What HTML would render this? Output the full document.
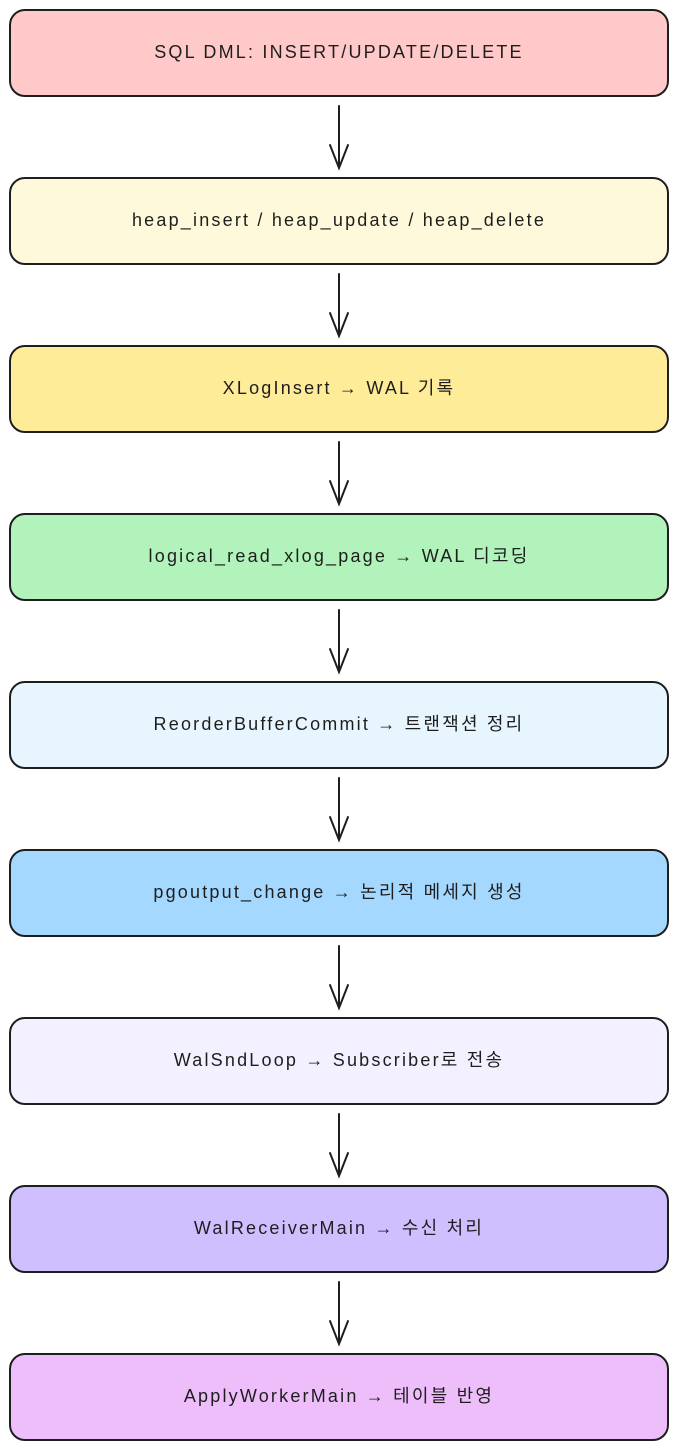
<!DOCTYPE html>
<html><head><meta charset="utf-8"><style>
html,body{margin:0;padding:0;background:#fff;}
svg text{font-family:"Liberation Sans","Noto Sans CJK KR",sans-serif;font-size:18px;letter-spacing:2.2px;fill:#1e1e1e;text-anchor:middle;dominant-baseline:central;}
</style></head><body>
<svg width="678" height="1450" viewBox="0 0 678 1450" xmlns="http://www.w3.org/2000/svg">
<g stroke="#1e1e1e" stroke-width="2">
<rect x="10" y="10" width="658" height="86" rx="15" fill="#ffc9c9"/>
<rect x="10" y="178" width="658" height="86" rx="15" fill="#fff9db"/>
<rect x="10" y="346" width="658" height="86" rx="15" fill="#ffec99"/>
<rect x="10" y="514" width="658" height="86" rx="15" fill="#b2f2bb"/>
<rect x="10" y="682" width="658" height="86" rx="15" fill="#e7f5ff"/>
<rect x="10" y="850" width="658" height="86" rx="15" fill="#a5d8ff"/>
<rect x="10" y="1018" width="658" height="86" rx="15" fill="#f3f0ff"/>
<rect x="10" y="1186" width="658" height="86" rx="15" fill="#d0bfff"/>
<rect x="10" y="1354" width="658" height="86" rx="15" fill="#eebefa"/>
</g>
<g stroke="#1e1e1e" stroke-width="2" fill="none" stroke-linecap="round">
<path d="M339 106V168M330 145L339 168L348 145"/>
<path d="M339 274V336M330 313L339 336L348 313"/>
<path d="M339 442V504M330 481L339 504L348 481"/>
<path d="M339 610V672M330 649L339 672L348 649"/>
<path d="M339 778V840M330 817L339 840L348 817"/>
<path d="M339 946V1008M330 985L339 1008L348 985"/>
<path d="M339 1114V1176M330 1153L339 1176L348 1153"/>
<path d="M339 1282V1344M330 1321L339 1344L348 1321"/>
</g>
<text x="339" y="52">SQL DML: INSERT/UPDATE/DELETE</text>
<text x="339" y="220">heap_insert / heap_update / heap_delete</text>
<text x="339" y="388">XLogInsert → WAL 기록</text>
<text x="339" y="556">logical_read_xlog_page → WAL 디코딩</text>
<text x="339" y="724">ReorderBufferCommit → 트랜잭션 정리</text>
<text x="339" y="892">pgoutput_change → 논리적 메세지 생성</text>
<text x="339" y="1060">WalSndLoop → Subscriber로 전송</text>
<text x="339" y="1228">WalReceiverMain → 수신 처리</text>
<text x="339" y="1396">ApplyWorkerMain → 테이블 반영</text>
</svg>
</body></html>
